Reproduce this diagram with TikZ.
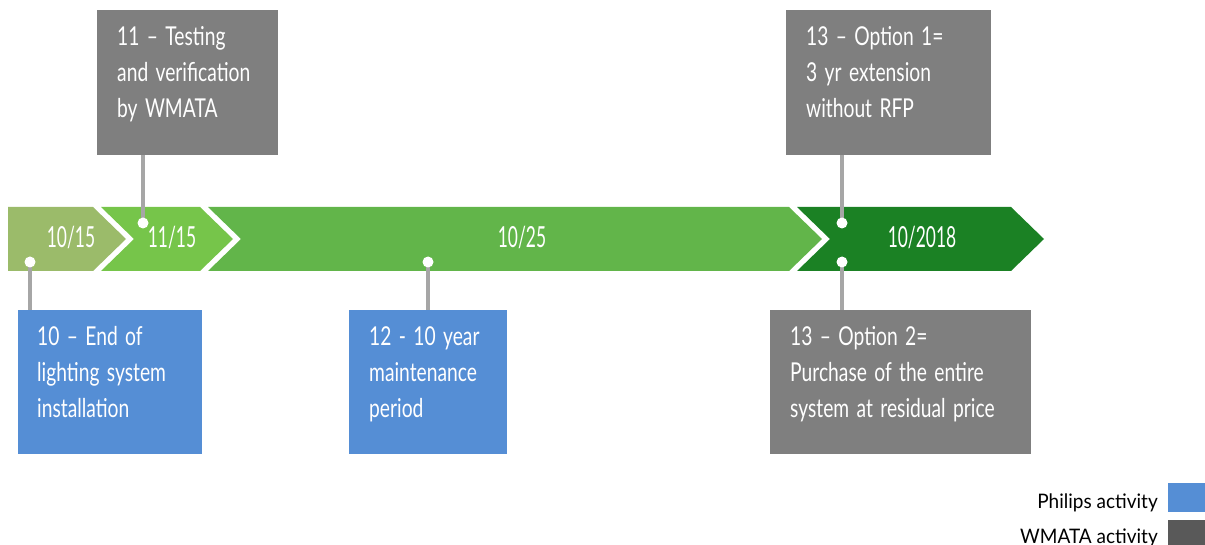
\documentclass[tikz,border=0pt]{standalone}
\usepackage{fontspec}
\setmainfont{Lato}
\newfontfamily\condf[FakeStretch=0.74, WordSpace=1.5]{Lato}
\newfontfamily\datef[FakeStretch=0.6]{Lato}
\newfontfamily\legf[FakeStretch=0.95]{Lato}
\definecolor{segA}{HTML}{9BBB6A}
\definecolor{segB}{HTML}{76C54A}
\definecolor{segC}{HTML}{62B54A}
\definecolor{segD}{HTML}{1B8124}
\definecolor{boxgray}{HTML}{7F7F7F}
\definecolor{boxblue}{HTML}{558ED5}
\definecolor{linegray}{HTML}{A6A6A6}
\definecolor{leggray}{HTML}{595959}
\tikzset{
  gbox/.style={fill=boxgray, draw=none, minimum height=145, anchor=north west, inner sep=0},
  bbox/.style={fill=boxblue, draw=none, minimum height=144, anchor=north west, inner sep=0},
  btext/.style={text=white, align=left, anchor=base west, inner sep=0, font=\condf\fontsize{26}{36}\selectfont},
  datetext/.style={text=white, anchor=base, inner sep=0, font=\datef\fontsize{29}{29}\selectfont},
  dot/.style={circle, fill=white, draw=none, minimum size=11, inner sep=0},
  conn/.style={draw=linegray, line width=3.3},
  legtext/.style={text=black, anchor=base east, inner sep=0, font=\legf\fontsize{20}{20}\selectfont},
  legsq/.style={draw=none, minimum width=37, anchor=north west, inner sep=0}
}
\begin{document}
\begin{tikzpicture}[x=1pt, y=-1pt]
\useasboundingbox (0,0) rectangle (1205,545);
% timeline band
\fill[segA] (8,207) -- (93,207) -- (126,239) -- (93,271) -- (8,271) -- cycle;
\fill[segB] (101,207) -- (200,207) -- (233,239) -- (200,271) -- (101,271) -- (134,239) -- cycle;
\fill[segC] (208,207) -- (789,207) -- (822,239) -- (789,271) -- (208,271) -- (241,239) -- cycle;
\fill[segD] (797,207) -- (1011,207) -- (1044,239) -- (1011,271) -- (797,271) -- (830,239) -- cycle;
% dates
\node[datetext] (d1) at (71,248) {10/15};
\node[datetext] (d2) at (172,248) {11/15};
\node[datetext] (d3) at (522,248) {10/25};
\node[datetext] (d4) at (922,248) {10/2018};
% boxes
\node[gbox, minimum width=181] (b11) at (97,10) {};
\node[gbox, minimum width=205] (b13a) at (786,10) {};
\node[bbox, minimum width=184] (b10) at (18,310) {};
\node[bbox, minimum width=158] (b12) at (349,310) {};
\node[bbox, fill=boxgray, minimum width=261] (b13b) at (770,310) {};
% box texts (anchored at the baseline of the last line)
\node[btext] (t11) at (117,118) {11 – Testing\\and verification\\by WMATA};
\node[btext] (t13a) at (806,118) {13 – Option 1=\\3 yr extension\\without RFP};
\node[btext] (t10) at (37,417) {10 – End of\\lighting system\\installation};
\node[btext] (t12) at (369,417) {12 - 10 year\\maintenance\\period};
\node[btext] (t13b) at (790,417) {13 – Option 2=\\Purchase of the entire\\system at residual price};
% dots
\coordinate (p10) at (30,262);
\coordinate (p11) at (143,223);
\coordinate (p12) at (428,262);
\coordinate (p13a) at (842,223);
\coordinate (p13b) at (842,262);
% connectors
\draw[conn] (p10) -- (p10 |- b10.north);
\draw[conn] (p11) -- (p11 |- b11.south);
\draw[conn] (p12) -- (p12 |- b12.north);
\draw[conn] (p13a) -- (p13a |- b13a.south);
\draw[conn] (p13b) -- (p13b |- b13b.north);
\node[dot] (n10) at (p10) {};
\node[dot] (n11) at (p11) {};
\node[dot] (n12) at (p12) {};
\node[dot] (n13a) at (p13a) {};
\node[dot] (n13b) at (p13b) {};
% legend
\node[legtext] (lp) at (1158,508) {Philips activity};
\node[legtext] (lw) at (1158,543) {WMATA activity};
\node[legsq, fill=boxblue, minimum height=29] (sp) at (1168,483) {};
\node[legsq, fill=leggray, minimum height=26] (sw) at (1168,520) {};
\end{tikzpicture}
\end{document}
